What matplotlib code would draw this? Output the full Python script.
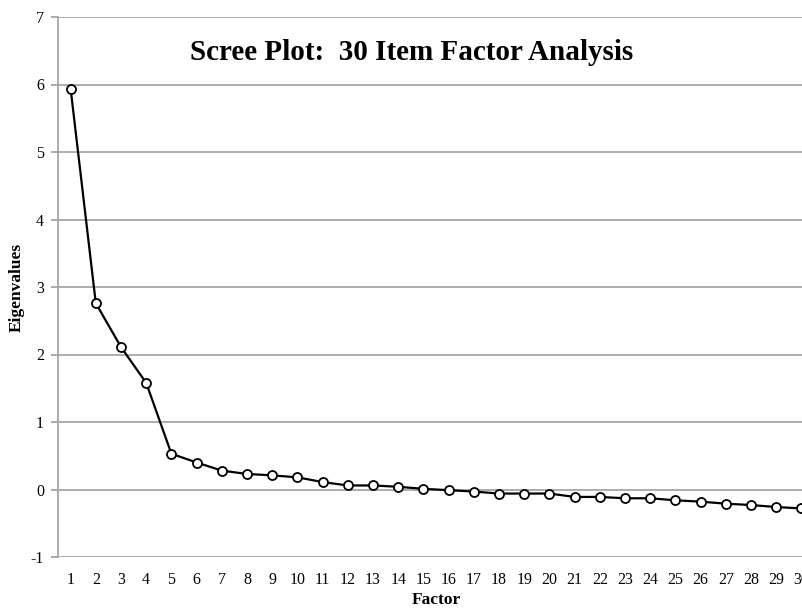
import matplotlib.pyplot as plt

factors = list(range(1, 31))
eigenvalues = [5.94, 2.76, 2.11, 1.58, 0.53, 0.40, 0.28, 0.23, 0.21, 0.18,
               0.11, 0.06, 0.06, 0.04, 0.01, -0.01, -0.03, -0.06, -0.06, -0.06,
               -0.11, -0.11, -0.13, -0.13, -0.16, -0.18, -0.21, -0.23, -0.26, -0.28]
y_ticks = [-1, 0, 1, 2, 3, 4, 5, 6, 7]

plt.rcParams["font.family"] = ["Liberation Serif", "DejaVu Serif"]
plt.rcParams["axes.unicode_minus"] = False

fig = plt.figure(figsize=(8.02, 6.09), dpi=100)
# the plot area runs past the right edge of the picture, as in the original
ax = fig.add_axes([58 / 802, 52 / 609, 756 / 802, 540 / 609])

grid_color = "#a6a6a6"
for y in y_ticks:
    ax.axhline(y, color=grid_color, linewidth=1.3, zorder=1)

ax.plot(factors, eigenvalues, color="black", linewidth=1.6,
        marker="o", markersize=6.5, markerfacecolor="white",
        markeredgecolor="black", markeredgewidth=1.3, zorder=3)

ax.set_xlim(0.5, 30.5)
ax.set_ylim(-1, 7)
ax.set_xticks(factors)
ax.set_yticks(y_ticks)
ax.tick_params(axis="x", length=0, pad=11, labelsize=11.5)
ax.tick_params(axis="y", length=5, width=1.3, color=grid_color, pad=5, labelsize=11.5)

for side in ["top", "right"]:
    ax.spines[side].set_visible(False)
ax.spines["left"].set_color(grid_color)
ax.spines["left"].set_linewidth(1.3)
ax.spines["bottom"].set_visible(False)

ax.set_xlabel("Factor", fontsize=12.5, fontweight="bold", labelpad=3)
fig.text(17 / 802, 1 - 287 / 609, "Eigenvalues", rotation=90,
         ha="center", va="center", fontsize=12.5, fontweight="bold")

fig.text(412 / 802, 1 - 52 / 609, "Scree Plot:  30 Item Factor Analysis",
         ha="center", va="center", fontsize=21, fontweight="bold")

plt.savefig("out.png", dpi=100)
